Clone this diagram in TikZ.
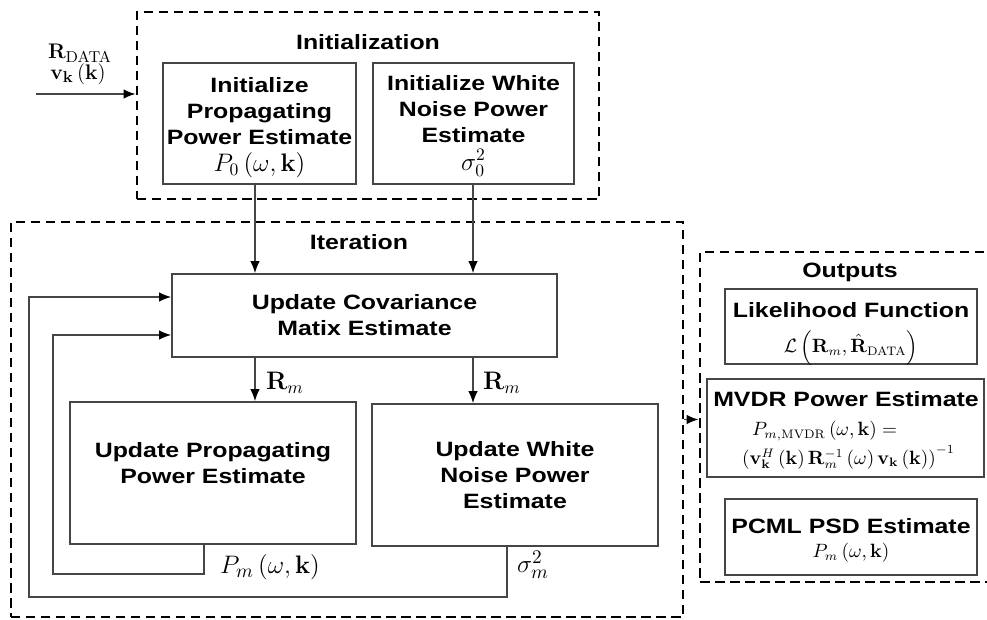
\documentclass[tikz,border=0pt]{standalone}
\usepackage{amsmath}
\usepackage[no-math]{fontspec}
\setmainfont{Liberation Sans}
\newfontfamily\blockfont{Liberation Sans}[FakeStretch=1.2]
\usetikzlibrary{arrows.meta, positioning, calc}
\definecolor{linegray}{RGB}{70,70,70}

\begin{document}
\begin{tikzpicture}[x=0.2mm,y=-0.2mm,
    >={Latex[length=2.4mm,width=1.9mm,color=black]},
    box/.style={rectangle,draw=linegray,line width=0.9pt,inner sep=0pt},
    group/.style={rectangle,draw=black,line width=1.6pt,dash pattern=on 1.9mm off 1.1mm,inner sep=0pt},
    txt/.style={font=\blockfont\bfseries\fontsize{11.8}{14.7}\selectfont,align=center},
    mth/.style={font=\fontsize{13}{15}\selectfont,inner sep=1pt},
    flow/.style={->,line width=0.9pt,linegray}]
    \useasboundingbox (0,0) rectangle (987,620);
    \clip (0,0) rectangle (987,620);

    % Initialization
    \node[group,minimum width=92.4mm,minimum height=37.4mm] (init) at (368,105.5) {};
    \node[txt] (initT) at (368,42) {Initialization};
    \node[box,minimum width=38.6mm,minimum height=24.2mm] (ipp) at (259.5,123.5) {};
    \node[txt] (ippT) at (259.5,128)
        {Initialize\\Propagating\\Power Estimate\\[1pt]{\fontsize{14}{15}\selectfont$P_0\left(\omega,\mathbf{k}\right)$}};
    \node[box,minimum width=40.2mm,minimum height=24.2mm] (iwn) at (473.5,123.5) {};
    \node[txt] (iwnT) at (473.5,126)
        {Initialize White\\Noise Power\\Estimate\\[1pt]{\fontsize{14}{15}\selectfont$\sigma_0^2$}};

    % Eingang
    \coordinate (src) at (36,94);
    \draw[flow] (src) -- (src -| init.west);
    \node[mth] (rdata) at (80,53) {$\mathbf{R}_{\mathrm{DATA}}$};
    \node[mth] (vk) at (78,74) {$\mathbf{v}_{\mathbf{k}}\left(\mathbf{k}\right)$};

    % Iteration
    \node[group,minimum width=134.4mm,minimum height=79mm] (iter) at (347,419.5) {};
    \node[txt] (iterT) at (359,242) {Iteration};
    \node[box,txt,minimum width=77mm,minimum height=16.6mm] (cov) at (364.5,315.5)
        {Update Covariance\\Matix Estimate};
    \node[box,minimum width=57.2mm,minimum height=28.4mm] (updP) at (213,473) {};
    \node[txt] (updPT) at (213,463) {Update Propagating\\Power Estimate};
    \node[box,txt,minimum width=57.2mm,minimum height=28.4mm] (updW) at (515,475)
        {Update White\\Noise Power\\Estimate};

    \coordinate (colA) at (255,0);
    \coordinate (colB) at (473,0);
    \draw[flow] (ipp.south -| colA) -- (cov.north -| colA);
    \draw[flow] (iwn.south -| colB) -- (cov.north -| colB);
    \draw[flow] (cov.south -| colA) -- (updP.north -| colA);
    \draw[flow] (cov.south -| colB) -- (updW.north -| colB);
    \node[mth,font=\fontsize{14}{15}\selectfont] (rmA) at (285,383) {$\mathbf{R}_m$};
    \node[mth,font=\fontsize{14}{15}\selectfont] (rmB) at (502,383) {$\mathbf{R}_m$};

    % Rueckfuehrung
    \coordinate (pfb) at (204,574);
    \coordinate (pin) at (53,335);
    \coordinate (wfb) at (507,597);
    \coordinate (win) at (29,297);
    \draw[flow] (updP.south -| pfb) |- (pin |- pfb) -- (pin) -- (pin -| cov.west);
    \draw[flow] (updW.south -| wfb) |- (win |- wfb) -- (win) -- (win -| cov.west);
    \node[mth,font=\fontsize{15}{16}\selectfont] (pm) at (270,567) {$P_m\left(\omega,\mathbf{k}\right)$};
    \node[mth,font=\fontsize{15}{16}\selectfont] (sm) at (533,565) {$\sigma_m^2$};

    % Outputs
    \node[group,minimum width=58.4mm,minimum height=66mm] (out) at (846,417) {};
    \node[txt] (outT) at (850,272) {Outputs};
    \draw[flow] (iter.east) -- (iter.east -| out.west);

    \node[box,minimum width=50.4mm,minimum height=15mm] (like) at (851,326.5) {};
    \node[txt] (likeT) at (851,310) {Likelihood Function};
    \node[mth,font=\fontsize{10.5}{12}\selectfont] (likeM) at (851,348)
        {$\mathcal{L}\left(\mathbf{R}_m,\hat{\mathbf{R}}_{\mathrm{DATA}}\right)$};

    \node[box,minimum width=55.4mm,minimum height=19.6mm] (mvdr) at (845.5,428) {};
    \node[txt] (mvdrT) at (846,399) {MVDR Power Estimate};
    \node[mth,font=\fontsize{10.5}{12}\selectfont,anchor=west] (mvdrA) at (750,431)
        {$P_{m,\mathrm{MVDR}}\left(\omega,\mathbf{k}\right)=$};
    \node[mth,font=\fontsize{10.5}{12}\selectfont,anchor=west] (mvdrB) at (740,457)
        {$\left(\mathbf{v}_{\mathbf{k}}^{H}\left(\mathbf{k}\right)\mathbf{R}_m^{-1}\left(\omega\right)\mathbf{v}_{\mathbf{k}}\left(\mathbf{k}\right)\right)^{-1}$};

    \node[box,minimum width=50.4mm,minimum height=15.2mm] (pcml) at (851,537) {};
    \node[txt] (pcmlT) at (851,526) {PCML PSD Estimate};
    \node[mth,font=\fontsize{10.5}{12}\selectfont] (pcmlM) at (851,553) {$P_m\left(\omega,\mathbf{k}\right)$};
\end{tikzpicture}
\end{document}
